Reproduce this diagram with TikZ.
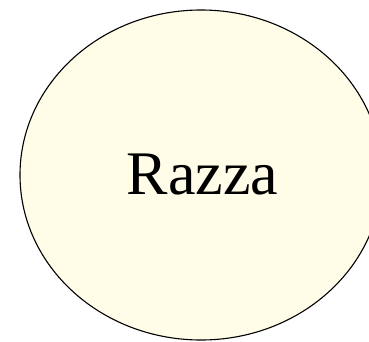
\documentclass[tikz,border=0pt]{standalone}
\usepackage{fontspec}
\setmainfont{Liberation Serif}
\usetikzlibrary{shapes.geometric}
\definecolor{cellfill}{HTML}{FFFDE8}
\tikzset{entity/.style={ellipse,draw=black,line width=1.1pt,fill=cellfill,
  minimum width=362pt,minimum height=330pt,inner sep=0pt,
  font=\fontsize{62}{72}\selectfont}}
\begin{document}
\begin{tikzpicture}[x=1pt,y=1pt]
\useasboundingbox (0,0) rectangle (369,341);
\node[entity] (razza) at (201,166) {\raisebox{-4.5pt}{\hspace*{3pt}Razza}};
\end{tikzpicture}
\end{document}
